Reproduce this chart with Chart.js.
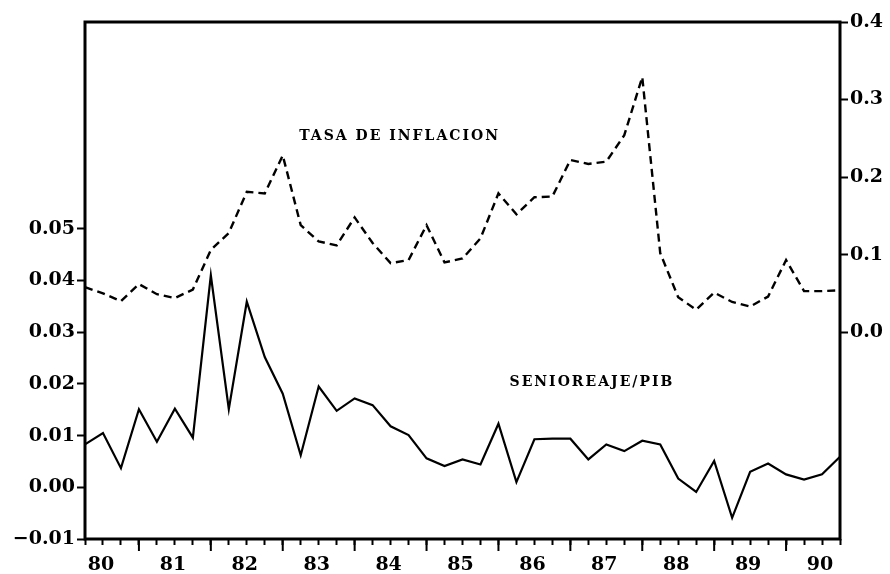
<!DOCTYPE html>
<html>
<head>
<meta charset="utf-8">
<script src="https://cdn.jsdelivr.net/npm/chart.js@4.4.0/dist/chart.umd.min.js"></script>
<style>
    html, body { margin: 0; padding: 0; background: #ffffff; }
    #wrap { width: 890px; height: 574px; }
</style>
</head>
<body>
<div id="wrap"><canvas id="seniorChart"></canvas></div>
<script>
// Quarters, 1980Q2 .. 1990Q4
const quarters = [];
for (let y = 80; y <= 90; y++) {
    for (let q = 1; q <= 4; q++) {
        if (y === 80 && q === 1) continue;
        quarters.push(y + 'Q' + q);
    }
}

// Senioreaje / PIB (left axis)
const senioreaje = [
    0.0083, 0.0105, 0.0037, 0.0151, 0.0088, 0.0152, 0.0096, 0.0410, 0.0151, 0.0359,
    0.0252, 0.0181, 0.0062, 0.0195, 0.0148, 0.0172, 0.0159, 0.0118, 0.0101, 0.0056,
    0.0041, 0.0054, 0.0044, 0.0123, 0.0010, 0.0093, 0.0094, 0.0094, 0.0054, 0.0083,
    0.0070, 0.0090, 0.0083, 0.0017, -0.0009, 0.0051, -0.0059, 0.0030, 0.0046, 0.0025,
    0.0015, 0.0025, 0.0059
];

// Tasa de inflacion (right axis)
const inflacion = [
    0.058, 0.050, 0.040, 0.062, 0.049, 0.044, 0.055, 0.106, 0.128, 0.181,
    0.179, 0.228, 0.138, 0.117, 0.112, 0.148, 0.115, 0.089, 0.093, 0.138,
    0.090, 0.095, 0.121, 0.179, 0.152, 0.174, 0.175, 0.222, 0.217, 0.220,
    0.254, 0.329, 0.102, 0.045, 0.029, 0.051, 0.039, 0.033, 0.046, 0.093,
    0.053, 0.053, 0.054
];

// Axis ticks
const leftTicks = [-0.01, 0.00, 0.01, 0.02, 0.03, 0.04, 0.05];
const rightTicks = [0.0, 0.1, 0.2, 0.3, 0.4];

// In-chart series labels: [text, quarter index, axis, value]
const seriesLabels = [
    ['TASA DE INFLACION', 17.5, 'y1', 0.253],
    ['SENIOREAJE/PIB', 28.2, 'y', 0.0203]
];

const tickFont = { family: 'DejaVu Serif', size: 19, weight: 'bold' };

// Frame, long year ticks and series labels
const framePlugin = {
    id: 'frame',
    afterDraw(chart) {
        const ctx = chart.ctx;
        const a = chart.chartArea;
        const xs = chart.scales.x;
        ctx.save();
        ctx.strokeStyle = '#000';
        ctx.lineWidth = 3;
        ctx.strokeRect(a.left, a.top, a.right - a.left, a.bottom - a.top);

        // longer ticks at the start of each year
        ctx.lineWidth = 2;
        quarters.forEach((q, i) => {
            if (q.endsWith('Q1')) {
                const px = xs.getPixelForValue(i);
                ctx.beginPath();
                ctx.moveTo(px, a.bottom);
                ctx.lineTo(px, a.bottom + 12);
                ctx.stroke();
            }
        });

        ctx.fillStyle = '#000';
        ctx.font = 'bold 14px "DejaVu Serif"';
        ctx.letterSpacing = '2px';
        ctx.textAlign = 'center';
        ctx.textBaseline = 'middle';
        seriesLabels.forEach(([text, xi, axis, v]) => {
            ctx.fillText(text, xs.getPixelForValue(xi), chart.scales[axis].getPixelForValue(v));
        });
        ctx.restore();
    }
};

const ctx = document.getElementById('seniorChart').getContext('2d');
new Chart(ctx, {
    type: 'line',
    data: {
        labels: quarters,
        datasets: [
            {
                label: 'Senioreaje/PIB',
                data: senioreaje,
                borderColor: '#000',
                borderWidth: 2.2,
                pointRadius: 0,
                tension: 0,
                yAxisID: 'y'
            },
            {
                label: 'Tasa de inflacion',
                data: inflacion,
                borderColor: '#000',
                borderWidth: 2.4,
                borderDash: [8, 5],
                pointRadius: 0,
                tension: 0,
                yAxisID: 'y1'
            }
        ]
    },
    options: {
        responsive: true,
        maintainAspectRatio: false,
        animation: false,
        layout: { padding: { top: 22 } },
        plugins: {
            legend: { display: false },
            tooltip: { enabled: false }
        },
        scales: {
            x: {
                type: 'category',
                offset: false,
                border: { display: false },
                grid: {
                    drawOnChartArea: false,
                    drawTicks: true,
                    tickLength: 6,
                    tickColor: '#000',
                    tickWidth: 2
                },
                ticks: {
                    autoSkip: false,
                    maxRotation: 0,
                    color: '#000',
                    font: tickFont,
                    padding: 9,
                    labelOffset: -2,
                    callback: function(val, i) {
                        const q = quarters[i];
                        return q.endsWith('Q3') ? q.slice(0, 2) : '';
                    }
                },
                afterFit: function(scale) { scale.height = 35; }
            },
            y: {
                type: 'linear',
                position: 'left',
                min: -0.01,
                max: 0.09,
                border: { display: false },
                grid: {
                    drawOnChartArea: false,
                    tickLength: 8,
                    tickWidth: 2,
                    tickColor: function(c) {
                        return c.tick && c.tick.value > 0.0505 ? 'rgba(0,0,0,0)' : '#000';
                    }
                },
                afterBuildTicks: function(scale) {
                    scale.ticks = leftTicks.map(v => ({ value: v }));
                },
                ticks: {
                    color: '#000',
                    font: tickFont,
                    padding: 2,
                    callback: function(v) {
                        return v < 0 ? '\u2212' + Math.abs(v).toFixed(2) : v.toFixed(2);
                    }
                },
                afterFit: function(scale) { scale.width = 85; }
            },
            y1: {
                type: 'linear',
                position: 'right',
                min: -0.2667,
                max: 0.4,
                border: { display: false },
                grid: {
                    drawOnChartArea: false,
                    tickLength: 8,
                    tickWidth: 2,
                    tickColor: '#000'
                },
                afterBuildTicks: function(scale) {
                    scale.ticks = rightTicks.map(v => ({ value: v }));
                },
                ticks: {
                    color: '#000',
                    font: tickFont,
                    padding: 2,
                    callback: function(v) { return v.toFixed(1); }
                },
                afterFit: function(scale) { scale.width = 50; }
            }
        }
    },
    plugins: [framePlugin]
});
</script>
</body>
</html>
